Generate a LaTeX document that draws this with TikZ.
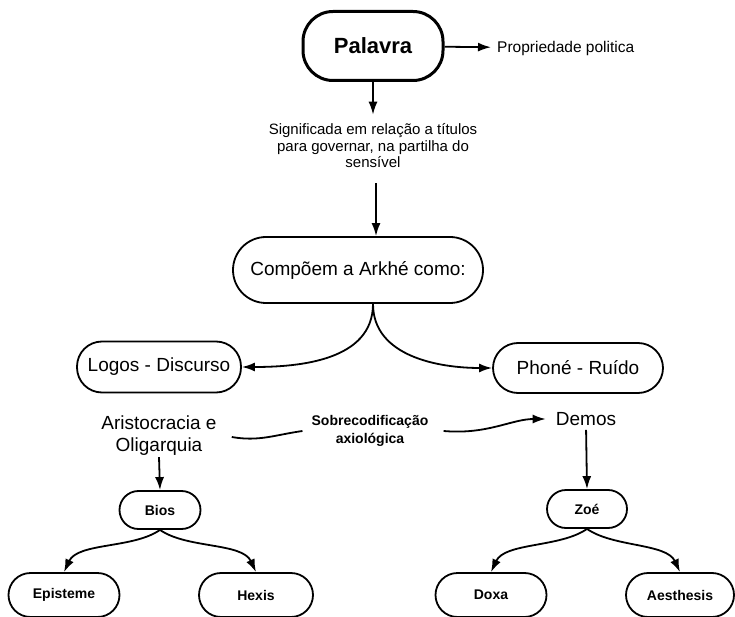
\documentclass[tikz,border=0pt]{standalone}
\usepackage{fontspec}
\setmainfont{Liberation Sans}
\usetikzlibrary{arrows.meta}

\tikzset{
  pill/.style={draw,line width=1.8pt,inner sep=0pt,align=center,font=\fontsize{19}{22}\selectfont},
  leaf/.style={pill,minimum height=38pt,rounded corners=19pt,font=\bfseries\fontsize{14}{16}\selectfont},
  arr/.style={-{Latex[length=13pt,width=9pt]},line width=1.8pt},
  wave/.style={line width=1.8pt}
}

\begin{document}
\begin{tikzpicture}[x=1pt,y=1pt]
  \useasboundingbox (0,0) rectangle (735,616);
  \node[pill,line width=3pt,rounded corners=30pt,minimum width=140pt,minimum height=69pt,font=\bfseries\fontsize{22}{24}\selectfont] (palavra) at (373,570) {Palavra};
  \node[anchor=west,inner sep=3pt,font=\fontsize{15.5}{17}\selectfont] (prop) at (494,568) {Propriedade politica};
  \draw[arr,shorten >=3pt] (palavra) -- (prop);
  \node[align=center,inner sep=9pt,font=\fontsize{15}{16.5}\selectfont] (sig) at (373,470) {Significada em relação a títulos\\para governar, na partilha do\\sensível};
  \draw[arr] (palavra.south) -- (sig.north);
  \node[pill,minimum width=250pt,minimum height=66pt,rounded corners=33pt] (comp) at (358,346) {Compõem a Arkhé como:};
  \draw[arr,shorten <=6pt] ([xshift=3pt]sig.south) -- ([xshift=3pt]sig.south |- comp.north);
  \node[pill,minimum width=164pt,minimum height=51pt,rounded corners=25pt] (logos) at (159,249) {Logos - Discurso};
  \node[pill,minimum width=170pt,minimum height=50pt,rounded corners=25pt] (phone) at (578,248) {Phoné - Ruído};
  \draw[arr] ([xshift=15pt]comp.south) to[out=-90,in=0] (logos.east);
  \draw[arr] ([xshift=15pt]comp.south) to[out=-90,in=180] (phone.west);

  \node[align=center,inner sep=1pt,font=\fontsize{19}{22}\selectfont] (aristo) at (159,180) {Aristocracia e\\Oligarquia};
  \node[align=center,inner sep=0pt,font=\bfseries\fontsize{14}{18}\selectfont] (sobre) at (370,185) {Sobrecodificação\\axiológica};
  \node[inner sep=0pt,font=\fontsize{19}{22}\selectfont] (demos) at (586,197) {Demos};
  \draw[wave] ([xshift=14pt,yshift=-1pt]aristo.east) to[out=-10,in=188] ([xshift=-9pt]sobre.west);
  \draw[arr,shorten >=10pt] ([xshift=15pt]sobre.east) to[out=-5,in=180] (demos.west);

  \node[leaf,minimum width=81pt] (bios) at (160,106) {Bios};
  \node[leaf,minimum width=80pt] (zoe) at (587,107) {Zoé};
  \draw[arr] (aristo.south) -- (bios.north);
  \draw[arr,shorten <=4pt] (demos.south) -- (zoe.north);

  \foreach \name/\x/\w/\txt in {epi/64/111/Episteme,hex/256/114/Hexis,doxa/491/111/Doxa,aes/680/108/Aesthesis}
    \node[leaf,minimum width=\w pt,minimum height=44pt,rounded corners=22pt] (\name) at (\x,21) {\txt};
  \foreach \a/\b/\o/\i in {bios/epi/-145/65,bios/hex/-35/115,zoe/doxa/-145/65,zoe/aes/-35/115}
    \draw[arr] (\a.south) to[out=\o,in=\i,looseness=0.8] (\b.north);
\end{tikzpicture}
\end{document}
